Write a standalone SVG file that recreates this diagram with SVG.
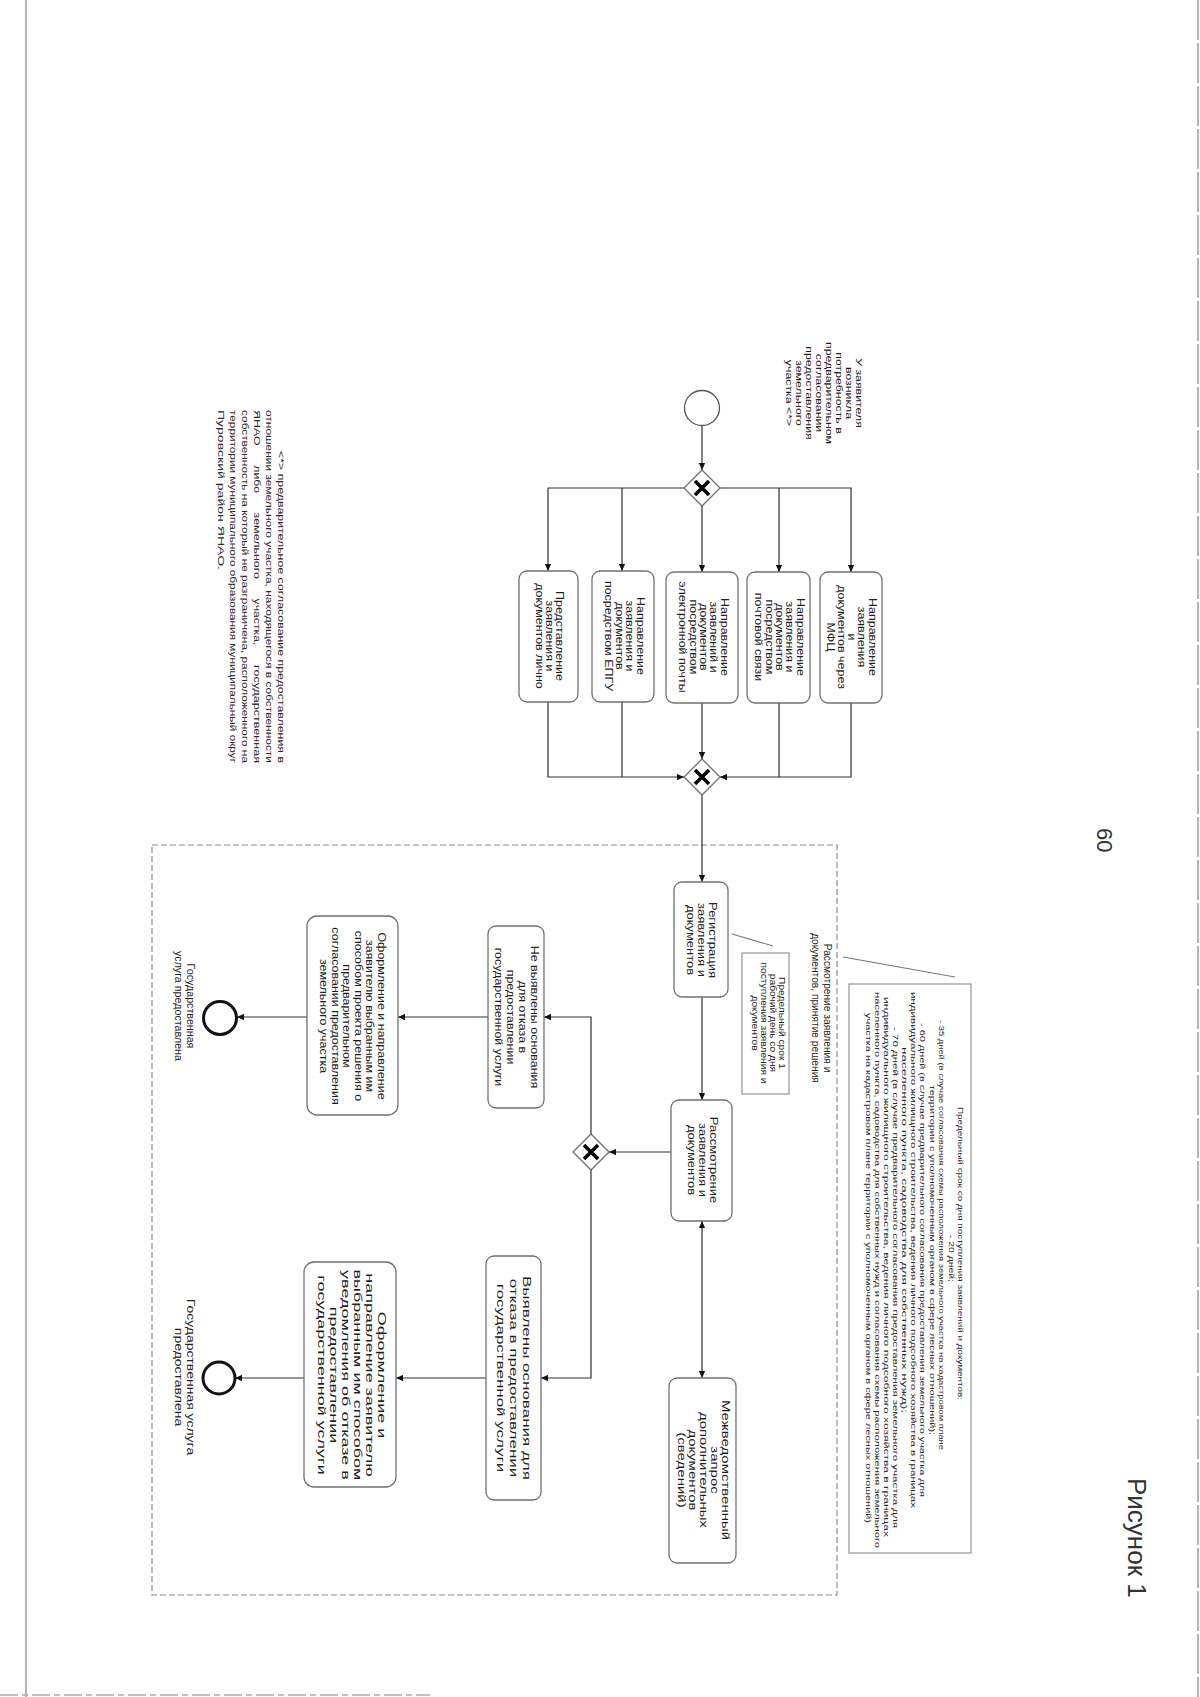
<svg xmlns="http://www.w3.org/2000/svg" width="1200" height="1697" viewBox="0 0 1200 1697">
<style>
.bg{fill:#fff}
.box{fill:#fff;stroke:#707070;stroke-width:1.3}
.gw{fill:#fff;stroke:#707070;stroke-width:1.3}
.gx{stroke:#000;stroke-width:3.6;stroke-linecap:butt}
.con{fill:none;stroke:#303030;stroke-width:1.2}
.ann{fill:#fff;stroke:#8a8a8a;stroke-width:1.1}
.assoc{fill:none;stroke:#777;stroke-width:1.1}
.grp{fill:none;stroke:#8a8a8a;stroke-width:1.2;stroke-dasharray:6 3}
.tx{font-family:"Liberation Sans",Arial,sans-serif;font-size:10px;fill:#1e1e1e}
.sm{font-family:"Liberation Sans",Arial,sans-serif;font-size:8px;fill:#2a2a2a}
.fn{font-family:"Liberation Sans",Arial,sans-serif;font-size:9.5px;fill:#2a2a2a}
.big{font-family:"Liberation Sans",Arial,sans-serif;fill:#333}
.edge{stroke:#9a9a9a;stroke-width:1.5}
</style>
<defs>
<marker id="ar" viewBox="0 0 10 10" refX="10" refY="5" markerWidth="8" markerHeight="7" markerUnits="userSpaceOnUse" orient="auto-start-reverse">
<path d="M0,0.5 L10,5 L0,9.5 z" fill="#111"/>
</marker>
</defs>
<rect class="bg" x="0" y="0" width="1200" height="1697"/>

<g id="page-edges">
<line class="edge" x1="26" y1="0" x2="26" y2="1697"/>
<line class="edge" x1="1198" y1="0" x2="1198" y2="1697" stroke-dasharray="40 3"/>
<line x1="0" y1="1695" x2="430" y2="1695" stroke="#aaa" stroke-width="1.5" stroke-dasharray="18 4 6 4"/>
</g>

<g id="group-review">
<rect class="grp" x="152" y="845" width="685" height="750"/>
<g transform="translate(821,1008) rotate(90) scale(1.02,1)"><text class="tx" text-anchor="middle"><tspan x="0" y="-3">Рассмотрение заявления и</tspan><tspan x="0" y="9">документов, принятие решения</tspan></text></g>
</g>

<g id="connectors">
<path class="con" d="M702,425.5 V470" marker-end="url(#ar)"/>
<path class="con" d="M684,488 H548 V571" marker-end="url(#ar)"/>
<path class="con" d="M622,488 V571" marker-end="url(#ar)"/>
<path class="con" d="M702,506 V572" marker-end="url(#ar)"/>
<path class="con" d="M720,488 H851 V572" marker-end="url(#ar)"/>
<path class="con" d="M779,488 V572" marker-end="url(#ar)"/>
<path class="con" d="M548,702 V777 H684" marker-end="url(#ar)"/>
<path class="con" d="M622,702 V777"/>
<path class="con" d="M851,703 V777 H720" marker-end="url(#ar)"/>
<path class="con" d="M779,703 V777"/>
<path class="con" d="M702,703 V759" marker-end="url(#ar)"/>
<path class="con" d="M702,795 V882" marker-end="url(#ar)"/>
<path class="con" d="M702,997 V1100" marker-end="url(#ar)"/>
<path class="con" d="M671,1152 H609" marker-end="url(#ar)"/>
<path class="con" d="M591,1134 V1017 H544" marker-end="url(#ar)"/>
<path class="con" d="M591,1170 V1378 H541" marker-end="url(#ar)"/>
<path class="con" d="M488,1017 H398" marker-end="url(#ar)"/>
<path class="con" d="M307,1017 H237" marker-end="url(#ar)"/>
<path class="con" d="M486,1378 H396" marker-end="url(#ar)"/>
<path class="con" d="M304,1378 H235" marker-end="url(#ar)"/>
<path class="con" d="M702,1221 V1378" marker-start="url(#ar)" marker-end="url(#ar)"/>
<path class="assoc" d="M732,934 L773,946"/>
<path class="assoc" d="M843,957 L955,977"/>
</g>

<g id="start">
<circle cx="702" cy="408" r="17.5" fill="#fff" stroke="#555" stroke-width="1.3"/>
<g transform="translate(824,393) rotate(90) scale(1.3,1)"><text class="tx" style="font-size:9.5px" text-anchor="middle"><tspan x="0" y="-32.15">У заявителя</tspan><tspan x="0" y="-22.15">возникла</tspan><tspan x="0" y="-12.15">потребность в</tspan><tspan x="0" y="-2.15">предварительном</tspan><tspan x="0" y="7.85">согласовании</tspan><tspan x="0" y="17.85">предоставления</tspan><tspan x="0" y="27.85">земельного</tspan><tspan x="0" y="37.85">участка &lt;*&gt;</tspan></text></g>
</g>

<g id="gw-split">
<path class="gw" d="M702,470 L720,488 L702,506 L684,488 z"/>
<path class="gx" d="M695,481 L709,495 M709,481 L695,495"/>
</g>

<g id="task-mfc">
<rect class="box" x="820" y="572" width="62" height="131" rx="8"/>
<g transform="translate(851,637) rotate(90) scale(1.25,1)"><text class="tx" text-anchor="middle"><tspan x="0" y="-18">Направление</tspan><tspan x="0" y="-7.5">заявления</tspan><tspan x="0" y="3">и</tspan><tspan x="0" y="13.5">документов через</tspan><tspan x="0" y="24">МФЦ</tspan></text></g>
</g>

<g id="task-post">
<rect class="box" x="747" y="572" width="63" height="131" rx="8"/>
<g transform="translate(779,637) rotate(90) scale(1.25,1)"><text class="tx" text-anchor="middle"><tspan x="0" y="-18">Направление</tspan><tspan x="0" y="-7.5">заявления и</tspan><tspan x="0" y="3">документов</tspan><tspan x="0" y="13.5">посредством</tspan><tspan x="0" y="24">почтовой связи</tspan></text></g>
</g>

<g id="task-email">
<rect class="box" x="666" y="572" width="72" height="131" rx="8"/>
<g transform="translate(703,637) rotate(90) scale(1.25,1)"><text class="tx" text-anchor="middle"><tspan x="0" y="-18">Направление</tspan><tspan x="0" y="-7.5">заявлений и</tspan><tspan x="0" y="3">документов</tspan><tspan x="0" y="13.5">посредством</tspan><tspan x="0" y="24">электронной почты</tspan></text></g>
</g>

<g id="task-epgu">
<rect class="box" x="592" y="571" width="62" height="131" rx="8"/>
<g transform="translate(624,636) rotate(90) scale(1.25,1)"><text class="tx" text-anchor="middle"><tspan x="0" y="-12.75">Направление</tspan><tspan x="0" y="-2.25">заявления и</tspan><tspan x="0" y="8.25">документов</tspan><tspan x="0" y="18.75">посредством ЕПГУ</tspan></text></g>
</g>

<g id="task-personal">
<rect class="box" x="519" y="571" width="59" height="131" rx="8"/>
<g transform="translate(549,636) rotate(90) scale(1.25,1)"><text class="tx" text-anchor="middle"><tspan x="0" y="-7.5">Представление</tspan><tspan x="0" y="3">заявления и</tspan><tspan x="0" y="13.5">документов лично</tspan></text></g>
</g>

<g id="gw-merge">
<path class="gw" d="M702,759 L720,777 L702,795 L684,777 z"/>
<path class="gx" d="M695,770 L709,784 M709,770 L695,784"/>
</g>

<g id="task-register">
<rect class="box" x="674" y="882" width="54" height="115" rx="8"/>
<g transform="translate(701,940) rotate(90) scale(1.3,1)"><text class="tx" text-anchor="middle"><tspan x="0" y="-8.5">Регистрация</tspan><tspan x="0" y="3">заявления и</tspan><tspan x="0" y="14.5">документов</tspan></text></g>
</g>

<g id="note-register">
<rect class="ann" x="742" y="953" width="47" height="141"/>
<g transform="translate(768,1023) rotate(90) scale(1.2,1)"><text class="tx" style="font-size:8.5px" text-anchor="middle"><tspan x="0" y="-11.4">Предельный срок 1</tspan><tspan x="0" y="-2.1">рабочий день со дня</tspan><tspan x="0" y="7.2">поступления заявления и</tspan><tspan x="0" y="16.5">документов</tspan></text></g>
</g>

<g id="task-review">
<rect class="box" x="671" y="1100" width="61" height="121" rx="8"/>
<g transform="translate(702,1160) rotate(90) scale(1.3,1)"><text class="tx" text-anchor="middle"><tspan x="0" y="-8.5">Рассмотрение</tspan><tspan x="0" y="3">заявления и</tspan><tspan x="0" y="14.5">документов</tspan></text></g>
</g>

<g id="task-interagency">
<rect class="box" x="669" y="1378" width="67" height="185" rx="8"/>
<g transform="translate(703,1470) rotate(90) scale(1.5,1)"><text class="tx" text-anchor="middle"><tspan x="0" y="-19">Межведомственный</tspan><tspan x="0" y="-8">запрос</tspan><tspan x="0" y="3">дополнительных</tspan><tspan x="0" y="14">документов</tspan><tspan x="0" y="25">(сведений)</tspan></text></g>
</g>

<g id="gw-decision">
<path class="gw" d="M591,1134 L609,1152 L591,1170 L573,1152 z"/>
<path class="gx" d="M584,1145 L598,1159 M598,1145 L584,1159"/>
</g>

<g id="task-no-grounds">
<rect class="box" x="488" y="926" width="56" height="182" rx="8"/>
<g transform="translate(516,1017) rotate(90) scale(1.25,1)"><text class="tx" text-anchor="middle"><tspan x="0" y="-14.55">Не выявлены основания</tspan><tspan x="0" y="-2.85">для отказа в</tspan><tspan x="0" y="8.85">предоставлении</tspan><tspan x="0" y="20.55">государственной услуги</tspan></text></g>
</g>

<g id="task-grounds">
<rect class="box" x="486" y="1256" width="55" height="244" rx="8"/>
<g transform="translate(513,1378) rotate(90) scale(1.7,1)"><text class="tx" text-anchor="middle"><tspan x="0" y="-10">Выявлены основания для</tspan><tspan x="0" y="3">отказа в предоставлении</tspan><tspan x="0" y="16">государственной услуги</tspan></text></g>
</g>

<g id="task-approve">
<rect class="box" x="307" y="916" width="91" height="199" rx="10"/>
<g transform="translate(352,1016) rotate(90) scale(1.25,1)"><text class="tx" text-anchor="middle"><tspan x="0" y="-26">Оформление и направление</tspan><tspan x="0" y="-14.4">заявителю выбранным им</tspan><tspan x="0" y="-2.8">способом проекта решения о</tspan><tspan x="0" y="8.8">предварительном</tspan><tspan x="0" y="20.4">согласовании предоставления</tspan><tspan x="0" y="32">земельного участка</tspan></text></g>
</g>

<g id="task-refuse">
<rect class="box" x="304" y="1262" width="92" height="225" rx="10"/>
<g transform="translate(351,1375) rotate(90) scale(1.8,1)"><text class="tx" text-anchor="middle"><tspan x="0" y="-27">Оформление и</tspan><tspan x="0" y="-15">направление заявителю</tspan><tspan x="0" y="-3">выбранным им способом</tspan><tspan x="0" y="9">уведомления об отказе в</tspan><tspan x="0" y="21">предоставлении</tspan><tspan x="0" y="33">государственной услуги</tspan></text></g>
</g>

<g id="end-approve">
<circle cx="220" cy="1018" r="16.5" fill="#fff" stroke="#111" stroke-width="3"/>
<g transform="translate(184,1006) rotate(90) scale(1.07,1)"><text class="tx" text-anchor="middle"><tspan x="0" y="-3">Государственная</tspan><tspan x="0" y="9">услуга предоставлена</tspan></text></g>
</g>

<g id="end-refuse">
<circle cx="219" cy="1378" r="16" fill="#fff" stroke="#111" stroke-width="3"/>
<g transform="translate(184,1377) rotate(90) scale(1.4,1)"><text class="tx" text-anchor="middle"><tspan x="0" y="-3">Государственная услуга</tspan><tspan x="0" y="9">предоставлена</tspan></text></g>
</g>

<g id="note-terms">
<rect class="ann" x="849" y="984" width="122" height="569"/>
<g transform="rotate(90)">
<text class="sm" x="1107" y="-957.6" textLength="293" lengthAdjust="spacingAndGlyphs">Предельный срок со дня поступления заявлений и документов:</text>
<text class="sm" x="1235" y="-948.6" textLength="47" lengthAdjust="spacingAndGlyphs">- 20 дней;</text>
<text class="sm" x="1020" y="-938.6" textLength="430" lengthAdjust="spacingAndGlyphs">- 35 дней (в случае согласования схемы расположения земельного участка на кадастровом плане</text>
<text class="sm" x="1085" y="-929.6" textLength="350" lengthAdjust="spacingAndGlyphs">территории с уполномоченным органом в сфере лесных отношений);</text>
<text class="sm" x="1023" y="-919.6" textLength="474" lengthAdjust="spacingAndGlyphs">- 60 дней (в случае предварительного согласования предоставления земельного участка для</text>
<text class="sm" x="992" y="-910.6" textLength="516" lengthAdjust="spacingAndGlyphs">индивидуального жилищного строительства, ведения личного подсобного хозяйства в границах</text>
<text class="sm" x="1047" y="-901.6" textLength="366" lengthAdjust="spacingAndGlyphs">населенного пункта, садоводства для собственных нужд);</text>
<text class="sm" x="1027" y="-892.6" textLength="501" lengthAdjust="spacingAndGlyphs">- 70 дней (в случае предварительного согласования предоставления земельного участка для</text>
<text class="sm" x="997" y="-883.6" textLength="540" lengthAdjust="spacingAndGlyphs">индивидуального жилищного строительства, ведения личного подсобного хозяйства в границах</text>
<text class="sm" x="992" y="-874.6" textLength="556" lengthAdjust="spacingAndGlyphs">населенного пункта, садоводства для собственных нужд и согласования схемы расположения земельного</text>
<text class="sm" x="1013" y="-865.6" textLength="510" lengthAdjust="spacingAndGlyphs">участка на кадастровом плане территории с уполномоченным органом в сфере лесных отношений)</text>
</g>
</g>

<g id="footnote">
<g transform="rotate(90)">
<text class="fn" x="451" y="-278" textLength="312" lengthAdjust="spacingAndGlyphs">&lt;*&gt; предварительное согласование предоставления в</text>
<text class="fn" x="410" y="-266" textLength="353" lengthAdjust="spacingAndGlyphs">отношении земельного участка, находящегося в собственности</text>
<text class="fn" x="410" y="-254" textLength="35.7" lengthAdjust="spacingAndGlyphs">ЯНАО</text>
<text class="fn" x="465.3" y="-254" textLength="27.7" lengthAdjust="spacingAndGlyphs">либо</text>
<text class="fn" x="512.6" y="-254" textLength="66.3" lengthAdjust="spacingAndGlyphs">земельного</text>
<text class="fn" x="598.5" y="-254" textLength="47" lengthAdjust="spacingAndGlyphs">участка,</text>
<text class="fn" x="665.1" y="-254" textLength="97.9" lengthAdjust="spacingAndGlyphs">государственная</text>
<text class="fn" x="410" y="-242" textLength="353" lengthAdjust="spacingAndGlyphs">собственность на который не разграничена, расположенного на</text>
<text class="fn" x="410" y="-230" textLength="353" lengthAdjust="spacingAndGlyphs">территории муниципального образования муниципальный округ</text>
<text class="fn" x="410" y="-218" textLength="160" lengthAdjust="spacingAndGlyphs">Пуровский район ЯНАО.</text>
</g>
</g>

<g id="page-labels">
<text class="big" transform="rotate(90)" x="828" y="-1097" font-size="22">60</text>
<text class="big" transform="rotate(90)" x="1478" y="-1128" font-size="26" fill="#222">Рисунок 1</text>
</g>
</svg>
